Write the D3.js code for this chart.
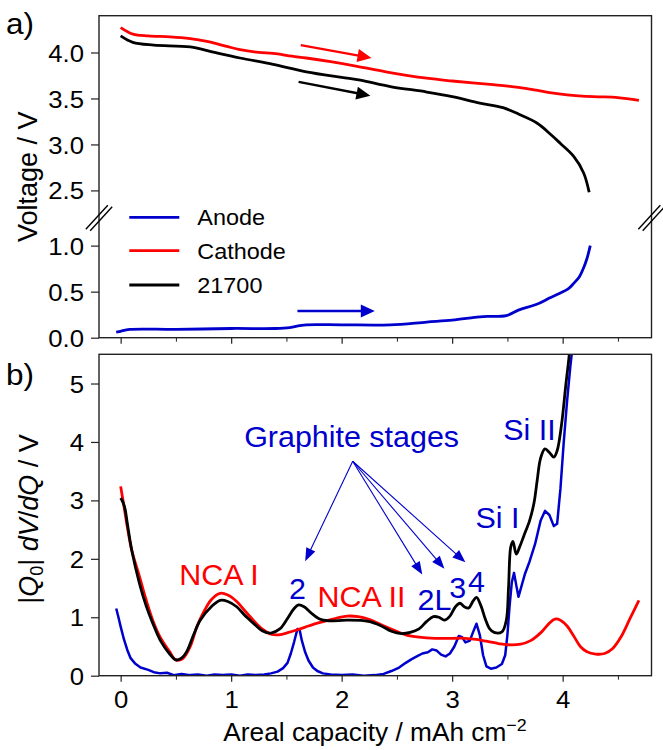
<!DOCTYPE html>
<html><head><meta charset="utf-8">
<script src="https://cdn.jsdelivr.net/npm/d3@7"></script>
<style>body{margin:0;background:#fff} svg{display:block} text{font-family:"Liberation Sans",Arial,sans-serif;fill:#000}</style>
</head><body><svg id="c" width="663" height="750"></svg>
<script>
// ---------- DATA ----------
// Panel a) voltage curves
const cathodeVx = [0, 0.11, 0.25, 0.45, 0.63, 0.78, 0.95, 1.08, 1.25, 1.38, 1.55, 1.68, 1.9, 2.14, 2.4, 2.77, 3.0, 3.37, 3.6, 3.76, 3.9, 4.04, 4.28, 4.5, 4.69];
const cathodeV  = [4.27, 4.20, 4.18, 4.17, 4.15, 4.12, 4.07, 4.03, 4.00, 3.99, 3.96, 3.94, 3.90, 3.85, 3.79, 3.72, 3.69, 3.65, 3.62, 3.59, 3.56, 3.54, 3.52, 3.51, 3.48];
const cellVx = [0, 0.11, 0.3, 0.63, 0.85, 1.08, 1.38, 1.68, 2.0, 2.17, 2.44, 2.77, 3.0, 3.25, 3.46, 3.6, 3.77, 3.9, 3.98, 4.10, 4.19, 4.24];
const cellV  = [4.18, 4.11, 4.08, 4.06, 4.00, 3.94, 3.87, 3.79, 3.73, 3.70, 3.63, 3.57, 3.52, 3.45, 3.40, 3.33, 3.23, 3.10, 3.01, 2.87, 2.69, 2.48];
const anodeVx = [-0.04, 0.0, 0.08, 0.5, 1.0, 1.4, 1.53, 1.62, 1.68, 2.0, 2.44, 2.77, 3.0, 3.2, 3.28, 3.49, 3.6, 3.76, 3.88, 3.97, 4.05, 4.10, 4.15, 4.19, 4.22, 4.25];
const anodeV  = [0.06, 0.07, 0.09, 0.09, 0.10, 0.10, 0.11, 0.13, 0.14, 0.14, 0.14, 0.17, 0.19, 0.22, 0.23, 0.24, 0.30, 0.36, 0.43, 0.48, 0.53, 0.59, 0.66, 0.76, 0.86, 1.0];

// Panel b) |Q0| dV/dQ curves
const cathodeDx = [0, 0.03, 0.06, 0.1, 0.17, 0.23, 0.29, 0.36, 0.44, 0.50, 0.56, 0.63, 0.69, 0.76, 0.82, 0.90, 0.97, 1.05, 1.12, 1.20, 1.28, 1.36, 1.43, 1.52, 1.59, 1.70, 1.78, 1.92, 2.05, 2.15, 2.24, 2.35, 2.47, 2.58, 2.70, 2.85, 3.0, 3.12, 3.22, 3.31, 3.42, 3.50, 3.62, 3.71, 3.81, 3.88, 3.93, 3.98, 4.04, 4.10, 4.16, 4.22, 4.30, 4.38, 4.45, 4.53, 4.61, 4.69];
const cathodeD  = [3.24, 2.9, 2.55, 2.15, 1.70, 1.30, 0.95, 0.65, 0.42, 0.27, 0.29, 0.50, 0.84, 1.12, 1.30, 1.41, 1.38, 1.27, 1.12, 0.95, 0.80, 0.71, 0.70, 0.74, 0.78, 0.85, 0.90, 0.97, 1.02, 1.01, 0.97, 0.88, 0.78, 0.70, 0.66, 0.64, 0.64, 0.64, 0.62, 0.59, 0.55, 0.53, 0.54, 0.60, 0.75, 0.90, 0.97, 0.95, 0.85, 0.68, 0.50, 0.41, 0.37, 0.38, 0.46, 0.67, 0.98, 1.29];
const cellDx = [0, 0.02, 0.04, 0.06, 0.1, 0.17, 0.23, 0.29, 0.36, 0.44, 0.50, 0.55, 0.60, 0.66, 0.72, 0.82, 0.90, 0.97, 1.05, 1.12, 1.20, 1.28, 1.36, 1.44, 1.51, 1.57, 1.61, 1.66, 1.72, 1.80, 1.88, 2.05, 2.24, 2.35, 2.45, 2.54, 2.62, 2.70, 2.77, 2.83, 2.88, 2.93, 2.98, 3.03, 3.07, 3.11, 3.15, 3.19, 3.22, 3.26, 3.30, 3.34, 3.38, 3.45, 3.49, 3.51, 3.53, 3.55, 3.58, 3.61, 3.65, 3.70, 3.74, 3.77, 3.80, 3.84, 3.88, 3.92, 3.95, 3.99, 4.03, 4.06, 4.08];
const cellD  = [3.04, 2.97, 2.85, 2.61, 2.15, 1.58, 1.20, 0.90, 0.60, 0.38, 0.27, 0.30, 0.42, 0.70, 0.95, 1.18, 1.29, 1.27, 1.18, 1.04, 0.90, 0.77, 0.73, 0.80, 0.98, 1.15, 1.21, 1.18, 1.08, 0.97, 0.94, 0.95, 0.93, 0.86, 0.76, 0.72, 0.74, 0.80, 0.93, 1.01, 1.00, 0.95, 1.02, 1.18, 1.24, 1.18, 1.16, 1.28, 1.34, 1.20, 0.97, 0.80, 0.74, 0.75, 0.95, 1.5, 2.2, 2.30, 2.08, 2.20, 2.40, 2.65, 2.95, 3.35, 3.72, 3.88, 3.82, 3.74, 3.85, 4.3, 5.0, 5.5, 6.0];
const anodeDx = [-0.04, -0.02, 0.0, 0.03, 0.06, 0.09, 0.13, 0.18, 0.25, 0.30, 0.36, 0.42, 0.48, 0.55, 0.63, 0.70, 0.78, 0.85, 0.92, 1.0, 1.08, 1.15, 1.22, 1.30, 1.36, 1.42, 1.47, 1.51, 1.54, 1.57, 1.60, 1.62, 1.64, 1.67, 1.70, 1.74, 1.78, 1.83, 1.90, 2.0, 2.1, 2.2, 2.3, 2.38, 2.45, 2.52, 2.58, 2.63, 2.68, 2.73, 2.78, 2.82, 2.86, 2.90, 2.94, 2.98, 3.02, 3.06, 3.09, 3.12, 3.16, 3.19, 3.22, 3.25, 3.28, 3.31, 3.35, 3.40, 3.45, 3.48, 3.50, 3.52, 3.54, 3.56, 3.58, 3.60, 3.63, 3.66, 3.70, 3.75, 3.80, 3.84, 3.88, 3.92, 3.95, 3.98, 4.01, 4.04, 4.07, 4.10];
const anodeD  = [1.15, 1.0, 0.84, 0.62, 0.44, 0.30, 0.21, 0.14, 0.10, 0.06, 0.04, 0.05, 0.01, 0.03, 0.01, 0.02, 0.0, 0.02, 0.01, 0.02, 0.0, 0.02, 0.01, 0.02, 0.04, 0.07, 0.13, 0.22, 0.38, 0.58, 0.80, 0.78, 0.60, 0.40, 0.26, 0.14, 0.08, 0.04, 0.02, 0.01, 0.02, 0.0, 0.01, 0.03, 0.08, 0.14, 0.22, 0.28, 0.33, 0.38, 0.40, 0.45, 0.43, 0.36, 0.33, 0.38, 0.50, 0.68, 0.66, 0.57, 0.60, 0.75, 0.89, 0.70, 0.35, 0.16, 0.12, 0.14, 0.20, 0.35, 0.70, 1.20, 1.60, 1.76, 1.55, 1.35, 1.55, 1.75, 1.95, 2.25, 2.65, 2.82, 2.75, 2.56, 2.60, 3.2, 4.0, 4.7, 5.3, 5.8];

// Ticks and labels
const xMajorTicks = [0, 1, 2, 3, 4];
const xMinorTicks = [0.5, 1.5, 2.5, 3.5, 4.5];
const topYTicks = [0, 0.5, 1.0, 2.5, 3.0, 3.5, 4.0];
const botYTicks = [0, 1, 2, 3, 4, 5];
const seriesNames = ["Anode", "Cathode", "21700"];
const seriesColors = ["#0000cd", "#ff0000", "#000000"];

// Annotations (data coordinates)
const topArrows = [ // [x1, v1, x2, v2, colorIndex]
  [1.63, 4.08, 2.27, 3.94, 1],
  [1.61, 3.68, 2.26, 3.53, 2],
  [1.60, 0.29, 2.30, 0.29, 0]
];
const stageOrigin = [2.10, 3.67];
const stageTips = [[1.67, 1.96], [2.73, 1.73], [2.93, 1.83], [3.12, 1.94]];
const bLabels = [ // text, x, v, colorIndex
  ["Graphite stages", 2.09, 3.92, 0],
  ["NCA I", 0.89, 1.56, 1],
  ["2", 1.60, 1.32, 0],
  ["NCA II", 2.18, 1.18, 1],
  ["2L", 2.84, 1.13, 0],
  ["3", 3.05, 1.33, 0],
  ["4", 3.22, 1.44, 0],
  ["Si I", 3.41, 2.53, 0],
  ["Si II", 3.70, 4.04, 0]
];

// ---------- LAYOUT ----------
const SX = 1.05; // slight horizontal glyph stretch of the figure
const L = 99, R = 651.5;
const aT = 15.7, aB = 337.7, aBreak = 218;
const bT = 354.3, bB = 675.7;
const FT = 24.5; // tick font

const svg = d3.select("#c");
const x = d3.scaleLinear().domain([-0.196, 4.804]).range([L, R]);
const yA = d3.scaleLinear().domain([0, 1.3, 2.2, 4.4]).range([aB, aBreak, aBreak, aT]);
const yB = d3.scaleLinear().domain([0, 5.5]).range([bB, bT]);

const defs = svg.append("defs");
defs.append("clipPath").attr("id", "clipA").append("rect").attr("x", L).attr("y", aT).attr("width", R - L).attr("height", aB - aT);
defs.append("clipPath").attr("id", "clipB").append("rect").attr("x", L).attr("y", bT).attr("width", R - L).attr("height", bB - bT);

function stext(g, px, py, s, size, anchor, color) {
  return g.append("text")
    .attr("transform", `translate(${px},${py}) scale(${SX},1)`)
    .attr("text-anchor", anchor || "start")
    .style("font-size", size + "px")
    .style("fill", color || "#000")
    .text(s);
}
function arrow(g, x1, y1, x2, y2, color, lw, hl, hw) {
  const dx = x2 - x1, dy = y2 - y1, len = Math.hypot(dx, dy);
  const ux = dx / len, uy = dy / len;
  const bx = x2 - ux * hl, by = y2 - uy * hl;
  g.append("line").attr("x1", x1).attr("y1", y1).attr("x2", bx + ux * 1).attr("y2", by + uy * 1)
    .attr("stroke", color).attr("stroke-width", lw);
  g.append("path").attr("d", `M${x2},${y2}L${bx - uy * hw / 2},${by + ux * hw / 2}L${bx + uy * hw / 2},${by - ux * hw / 2}Z`)
    .attr("fill", color);
}
function styleYAxis(g) {
  g.select(".domain").remove();
  g.selectAll(".tick line").attr("stroke", "#222").attr("stroke-width", 1.2);
  g.selectAll(".tick text").attr("x", 0).attr("dy", "0.35em").attr("transform", `translate(-15,0) scale(${SX},1)`)
    .style("font-size", FT + "px").attr("fill", "#000");
}
function xAxisTicks(g, yPos, labels) {
  const maj = g.append("g").attr("transform", `translate(0,${yPos})`)
    .call(d3.axisBottom(x).tickValues(xMajorTicks).tickSize(6).tickSizeOuter(0).tickFormat(d3.format("d")));
  maj.select(".domain").remove();
  maj.selectAll(".tick line").attr("stroke", "#222").attr("stroke-width", 1.2);
  if (labels) {
    maj.selectAll(".tick text").attr("y", null).attr("dy", null)
      .attr("transform", `translate(0,32.5) scale(${SX},1)`).style("font-size", FT + "px").attr("fill", "#000");
  } else maj.selectAll(".tick text").remove();
  const mn = g.append("g").attr("transform", `translate(0,${yPos})`)
    .call(d3.axisBottom(x).tickValues(xMinorTicks).tickSize(4).tickSizeOuter(0).tickFormat(""));
  mn.select(".domain").remove();
  mn.selectAll(".tick line").attr("stroke", "#222").attr("stroke-width", 1);
}

// ---------- PANEL a ----------
const gA = svg.append("g");
const lineA = (xs, vs) => d3.line().curve(d3.curveCatmullRom.alpha(0.5))
  .x((d, i) => x(xs[i])).y((d, i) => yA(vs[i]))(vs);
const pA = gA.append("g").attr("clip-path", "url(#clipA)");
[[anodeVx, anodeV, 0], [cathodeVx, cathodeV, 1], [cellVx, cellV, 2]].forEach(([xs, vs, c]) => {
  pA.append("path").attr("d", lineA(xs, vs)).attr("fill", "none")
    .attr("stroke", seriesColors[c]).attr("stroke-width", 2.8).attr("stroke-linejoin", "round");
});
topArrows.forEach(a => arrow(gA, x(a[0]), yA(a[1]), x(a[2]), yA(a[3]), seriesColors[a[4]], 2.4, 14, 13));

gA.append("rect").attr("x", L).attr("y", aT).attr("width", R - L).attr("height", aB - aT)
  .attr("fill", "none").attr("stroke", "#222").attr("stroke-width", 1.4);
const axA = gA.append("g").attr("transform", `translate(${L},0)`)
  .call(d3.axisLeft(yA).tickValues(topYTicks).tickSize(8).tickFormat(d3.format(".1f")));
styleYAxis(axA);
xAxisTicks(gA, aB, false);

// break marks
[L, R].forEach(bx => {
  [-2.2, 2.2].forEach(off => {
    gA.append("line").attr("x1", bx - 11 + off).attr("y1", aBreak + 12 + off * 0.3)
      .attr("x2", bx + 11 + off).attr("y2", aBreak - 12 + off * 0.3)
      .attr("stroke", "#000").attr("stroke-width", 1.4);
  });
});

// legend
seriesNames.forEach((n, i) => {
  const ly = [217.3, 250.7, 285][i];
  gA.append("line").attr("x1", 129.3).attr("x2", 179.3).attr("y1", ly).attr("y2", ly)
    .attr("stroke", seriesColors[i]).attr("stroke-width", 2.8);
  stext(gA, 197.3, ly + 8, n, 22.3, "start");
});

// labels
stext(svg, 6, 34, "a)", 30, "start");
svg.append("text")
  .attr("transform", `translate(37,${(aT + aB) / 2}) scale(${SX},1) rotate(-90)`)
  .attr("text-anchor", "middle").style("font-size", "27px").text("Voltage / V");

// ---------- PANEL b ----------
const gB = svg.append("g");
const pB = gB.append("g").attr("clip-path", "url(#clipB)");
const lineB = (xs, vs, cur) => d3.line().curve(cur)
  .x((d, i) => x(xs[i])).y((d, i) => yB(vs[i]))(vs);
pB.append("path").attr("d", lineB(anodeDx, anodeD, d3.curveLinear)).attr("fill", "none")
  .attr("stroke", seriesColors[0]).attr("stroke-width", 2.5).attr("stroke-linejoin", "round");
pB.append("path").attr("d", lineB(cathodeDx, cathodeD, d3.curveCatmullRom.alpha(0.5))).attr("fill", "none")
  .attr("stroke", seriesColors[1]).attr("stroke-width", 2.8);
pB.append("path").attr("d", lineB(cellDx, cellD, d3.curveCatmullRom.alpha(0.5))).attr("fill", "none")
  .attr("stroke", seriesColors[2]).attr("stroke-width", 2.8);

gB.append("rect").attr("x", L).attr("y", bT).attr("width", R - L).attr("height", bB - bT)
  .attr("fill", "none").attr("stroke", "#222").attr("stroke-width", 1.4);
const axB = gB.append("g").attr("transform", `translate(${L},0)`)
  .call(d3.axisLeft(yB).tickValues(botYTicks).tickSize(8).tickFormat(d3.format("d")));
styleYAxis(axB);
xAxisTicks(gB, bB, true);

// graphite stage arrows
stageTips.forEach(t => arrow(gB, x(stageOrigin[0]), yB(stageOrigin[1]), x(t[0]), yB(t[1]), seriesColors[0], 1.1, 13, 10));
bLabels.forEach(b => stext(gB, x(b[1]), yB(b[2]), b[0], 29, "middle", seriesColors[b[3]]));

stext(svg, 6, 385, "b)", 30, "start");
// x label
const xl = stext(svg, 375, 741, "Areal capacity / mAh cm", 25, "middle");
xl.append("tspan").attr("dy", -10).style("font-size", "17px").text("−2");
// y label
const yl = svg.append("text")
  .attr("transform", `translate(38,${(bT + bB) / 2 + 4}) scale(${SX},1) rotate(-90)`)
  .attr("text-anchor", "middle").style("font-size", "27px");
yl.append("tspan").text("|");
yl.append("tspan").style("font-style", "italic").text("Q");
yl.append("tspan").attr("dy", 5).style("font-size", "18px").text("0");
yl.append("tspan").attr("dy", -5).text("| ");
yl.append("tspan").style("font-style", "italic").text("dV");
yl.append("tspan").text("/");
yl.append("tspan").style("font-style", "italic").text("dQ");
yl.append("tspan").text(" / V");
</script></body></html>
